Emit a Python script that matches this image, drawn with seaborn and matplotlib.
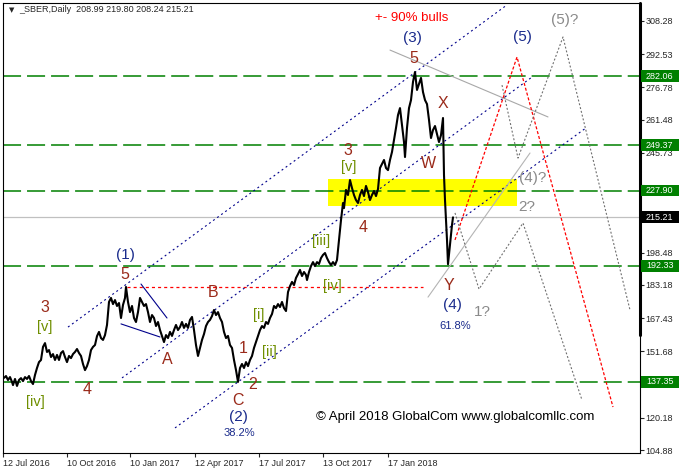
import matplotlib
matplotlib.use('Agg')
import seaborn as sns
import pandas as pd
from matplotlib import pyplot as plt
from matplotlib import transforms
from matplotlib.patches import Rectangle

# daily closes (bar number from the left edge, price)
bars = [1, 3, 5, 7, 9, 10, 12, 14, 16, 18, 20, 22, 24, 26, 28, 30, 32, 34, 36, 38,
        40, 42, 44, 46, 48, 50, 52, 54, 56, 58, 60, 62, 64, 66, 68, 70, 72, 74, 76, 78,
        80, 82, 84, 86, 88, 90, 92, 94, 96, 98, 100, 102, 104, 106, 108, 110, 112, 114, 116, 118,
        120, 122, 123, 125, 127, 129, 131, 133, 135, 137, 139, 141, 143, 145, 147, 149, 151, 153, 155, 157,
        159, 161, 163, 165, 167, 169, 171, 173, 175, 177, 179, 181, 183, 185, 187, 189, 191, 193, 195, 197,
        199, 201, 203, 205, 207, 209, 211, 213, 215, 217, 219, 221, 223, 225, 227, 229, 231, 233, 235, 237,
        239, 241, 243, 245, 247, 249, 251, 253, 255, 257, 259, 261, 263, 265, 267, 269, 271, 273, 275, 277,
        279, 281, 283, 285, 287, 289, 291, 293, 295, 297, 299, 301, 303, 304, 306, 308, 310, 312, 314, 316,
        318, 320, 322, 324, 326, 328, 330, 332, 334, 335, 336, 338, 340, 341, 343, 345, 347, 349, 351, 353,
        355, 357, 359, 361, 363, 365, 367, 369, 371, 373, 375, 377, 379, 381, 383, 385, 387, 389, 391, 393,
        395, 397, 399, 401, 402, 404, 406, 408, 410, 412, 414, 416, 418, 420, 422, 424, 426, 428, 430, 432,
        434, 436, 438, 440, 441, 442, 443, 444, 445, 447, 449, 450]
closes = [139.1, 140.0, 138.1, 139.5, 137.2, 135.7, 138.6, 135.3, 138.1, 139.0,
          137.6, 139.5, 138.6, 140.0, 137.6, 136.2, 140.5, 143.8, 146.6, 147.6,
          153.8, 155.6, 151.4, 152.3, 149.0, 150.4, 147.6, 150.0, 147.6, 150.9,
          151.8, 149.0, 146.6, 149.5, 148.5, 150.4, 151.4, 152.8, 150.9, 149.5,
          145.7, 142.8, 144.7, 147.6, 152.3, 153.8, 154.7, 158.9, 160.9, 158.0,
          157.1, 159.4, 164.2, 175.1, 177.0, 174.1, 176.0, 173.2, 174.6, 167.5,
          173.7, 177.0, 182.2, 175.1, 170.3, 173.2, 167.5, 165.6, 170.3, 177.0,
          175.1, 173.2, 174.1, 170.3, 165.6, 168.9, 167.5, 163.7, 165.6, 161.8,
          159.0, 156.1, 159.4, 158.0, 160.9, 159.0, 161.8, 164.2, 161.8, 163.2,
          165.6, 162.8, 164.7, 162.8, 166.6, 168.0, 161.8, 154.7, 149.5, 153.3,
          157.1, 159.9, 163.7, 165.6, 166.6, 168.4, 171.3, 168.9, 170.3, 167.5,
          165.6, 160.9, 158.0, 159.0, 154.7, 153.3, 147.6, 142.8, 137.2, 143.8,
          145.7, 143.8, 146.6, 144.7, 147.6, 149.5, 153.3, 156.1, 158.9, 161.8,
          163.7, 162.8, 165.6, 164.7, 167.5, 169.4, 173.2, 172.2, 174.1, 172.7,
          175.1, 172.2, 170.8, 179.8, 182.6, 184.6, 183.1, 186.5, 188.3, 190.3,
          187.4, 189.3, 187.9, 185.5, 189.3, 192.1, 194.0, 192.1, 194.0, 193.1,
          195.9, 197.4, 198.3, 195.9, 194.0, 192.6, 194.0, 192.6, 195.0, 199.7,
          204.5, 213.9, 222.0, 219.6, 228.2, 225.8, 232.9, 229.1, 225.8, 223.4,
          222.0, 225.8, 228.2, 225.3, 230.1, 227.2, 223.4, 225.8, 227.7, 225.3,
          228.6, 238.6, 240.5, 242.4, 238.6, 237.6, 242.4, 246.2, 251.9, 257.6,
          263.7, 267.0, 259.0, 250.9, 243.8, 257.6, 267.0, 270.8, 279.4, 284.1,
          275.6, 278.4, 281.3, 274.6, 270.8, 268.9, 261.4, 252.8, 256.6, 258.5,
          254.7, 250.9, 254.2, 262.3, 235.3, 223.4, 213.9, 204.5, 193.0, 202.1,
          211.6, 215.21]

date_ticks = [0, 64, 127, 192, 256, 320, 385]
date_labels = ['12 Jul 2016', '10 Oct 2016', '10 Jan 2017', '12 Apr 2017',
               '17 Jul 2017', '13 Oct 2017', '17 Jan 2018']
price_ticks = [308.28, 292.53, 276.78, 261.48, 245.73, 230.43, 214.68,
               198.48, 183.18, 167.43, 151.68, 135.93, 120.18, 104.88]
hidden_ticks = [230.43, 214.68, 135.93]   # covered by the level boxes
levels = [282.06, 249.37, 227.90, 192.33, 137.35]
last_price = 215.21
title = '_SBER,Daily  208.99 219.80 208.24 215.21'

# drawn tools: (bars, prices)
channel_a = ([65, 504], [163.2, 315.9])
channel_b = ([119, 529], [139.1, 281.7])
channel_c = ([172, 583], [115.4, 257.6])
wedge_top = ([138, 164], [183.6, 167.5])
wedge_bottom = ([118, 157], [164.7, 158.5])
fan_upper = ([387, 545], [294.5, 262.8])
fan_lower = ([425, 527], [177.4, 245.7])
red_path = ([452, 514, 610], [204.5, 291.2, 125.3])
gray_path_1 = ([452, 476, 520, 579], [217.3, 181.2, 212.5, 128.6])
gray_path_2 = ([499, 515, 560, 627], [277.9, 243.3, 300.7, 171.3])
b_line = ([124, 420], [182.2, 182.2])
zone = (325, 514, 220.6, 233.4)

RED = '#9a2a1a'
NAVY = '#1a2b8c'
OLIVE = '#6f8f00'
GRAY = '#8a8a8a'

labels = [
    ('+- 90% bulls', 409, 309.7, 'red', 9.5),
    ('(3)', 409, 300.2, NAVY, 11),
    ('5', 411, 290.7, RED, 11.5),
    ('X', 440, 269.4, RED, 11.5),
    ('W', 425, 240.7, RED, 11.5),
    ('3', 345, 247.1, RED, 11.5),
    ('[v]', 346, 239.2, OLIVE, 10.5),
    ('4', 360, 210.6, RED, 11.5),
    ('[iii]', 318, 204.0, OLIVE, 10.5),
    ('[iv]', 329, 182.7, OLIVE, 10.5),
    ('Y', 446, 182.7, RED, 11.5),
    ('(4)', 449, 173.7, NAVY, 11),
    ('61.8%', 452, 163.7, NAVY, 8),
    ('1?', 479, 170.3, GRAY, 11),
    ('2?', 524, 220.1, GRAY, 11),
    ('(4)?', 530, 233.8, GRAY, 11),
    ('(5)', 519, 300.7, NAVY, 11),
    ('(5)?', 562, 308.7, GRAY, 11),
    ('(1)', 122, 197.4, NAVY, 11),
    ('5', 122, 187.9, RED, 11.5),
    ('B', 210, 179.8, RED, 11.5),
    ('3', 42, 172.7, RED, 11.5),
    ('[v]', 42, 163.2, OLIVE, 10.5),
    ('[iv]', 32, 127.7, OLIVE, 10.5),
    ('4', 84, 133.4, RED, 11.5),
    ('A', 164, 147.6, RED, 11.5),
    ('1', 240, 153.2, RED, 11.5),
    ('[i]', 256, 168.9, OLIVE, 10.5),
    ('[ii]', 266, 151.4, OLIVE, 10.5),
    ('2', 250, 136.2, RED, 11.5),
    ('C', 235, 128.6, RED, 11.5),
    ('(2)', 235, 120.6, NAVY, 11),
    ('38.2%', 236, 113.0, NAVY, 8),
]

sns.set_style('white')
plt.rcParams['font.family'] = ['Liberation Sans', 'DejaVu Sans']
plt.rcParams['lines.scale_dashes'] = False

fig = plt.figure(figsize=(6.8, 4.74), dpi=100)
ax = fig.add_axes([3 / 680, 21 / 474, 637 / 680, 450 / 474])
ax.set_xlim(0, 637)
ax.set_ylim(103.51, 316.81)

ax.add_patch(Rectangle((zone[0], zone[2]), zone[1] - zone[0], zone[3] - zone[2],
                       facecolor='#ffff00', edgecolor='none', zorder=0.5))

for lv in levels:
    ax.axhline(lv, color='#008000', lw=1.1, dashes=(13, 4.3), zorder=1)
ax.axhline(last_price, color='#c0c0c0', lw=0.9, zorder=1)
ax.plot(*b_line, color='red', lw=0.9, dashes=(2.2, 2.2), zorder=1)

for ln in (channel_a, channel_b, channel_c):
    ax.plot(*ln, color='#00008b', lw=0.8, dashes=(1.4, 2.2), zorder=1.5)
for ln in (wedge_top, wedge_bottom):
    ax.plot(*ln, color='#00008b', lw=0.8, zorder=1.5)
ax.plot(*fan_upper, color='#a8a8a8', lw=0.8, zorder=1.5)
ax.plot(*fan_lower, color='#b4b4b4', lw=0.8, zorder=1.5)
ax.plot(*red_path, color='red', lw=0.9, dashes=(2.2, 1.4), zorder=1.5)
for ln in (gray_path_1, gray_path_2):
    ax.plot(*ln, color='#6e6e6e', lw=0.8, dashes=(1.4, 1.4), zorder=1.5)

df = pd.DataFrame({'bar': bars, 'close': closes})
sns.lineplot(data=df, x='bar', y='close', color='black', lw=1.5, ax=ax, zorder=3)

for txt, bx, py, col, fs in labels:
    ax.text(bx, py, txt, color=col, fontsize=fs, ha='center', va='center', zorder=4)
ax.text(452, 120.6, '\u00a9 April 2018 GlobalCom www.globalcomllc.com', fontsize=9.5,
        color='black', ha='center', va='center', zorder=4)

# axes and ticks
ax.set_xlabel('')
ax.set_ylabel('')
ax.set_xticks(date_ticks)
ax.set_xticklabels(date_labels, fontsize=6.5, ha='left')
ax.yaxis.tick_right()
ax.set_yticks(price_ticks)
ax.set_yticklabels(['' if p in hidden_ticks else '%.2f' % p for p in price_ticks], fontsize=6.5)
ax.tick_params(axis='x', length=3, width=0.8, pad=1, direction='out', bottom=True)
ax.tick_params(axis='y', length=3, width=0.8, pad=1, direction='out', right=True, left=False)
for sp in ax.spines.values():
    sp.set_color('black')
    sp.set_linewidth(0.8)
ax.plot([1, 1], [0.262, 1], transform=ax.transAxes, color='black', lw=2.2,
        clip_on=False, zorder=5)

# level boxes on the price scale
trans = transforms.blended_transform_factory(ax.transAxes, ax.transData)
for lv, fc in [(l, '#008000') for l in levels] + [(last_price, 'black')]:
    ax.add_patch(Rectangle((1.0016, lv - 2.8), 0.06, 5.6, transform=trans,
                           facecolor=fc, edgecolor='none', clip_on=False, zorder=6))
    ax.text(1.031, lv, '%.2f' % lv, transform=trans, color='white', fontsize=6.5,
            ha='center', va='center', clip_on=False, zorder=7)

fig.text(9 / 680, 1 - 10 / 474, '\u25bc', fontsize=5, family='DejaVu Sans',
         ha='left', va='center')
fig.text(19 / 680, 1 - 10 / 474, title, fontsize=6.5, ha='left', va='center')

fig.savefig('out.png', dpi=100)
